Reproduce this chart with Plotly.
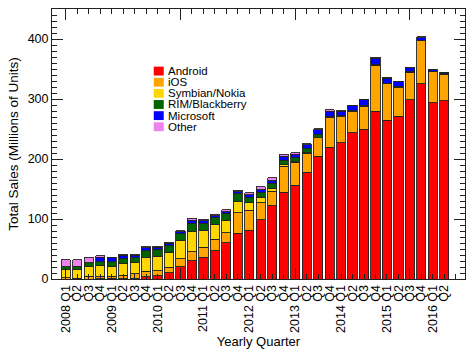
import plotly.graph_objects as go

# ---- data (millions of units) ----
quarters = ["2008 Q1", "Q2", "Q3", "Q4",
            "2009 Q1", "Q2", "Q3", "Q4",
            "2010 Q1", "Q2", "Q3", "Q4",
            "2011 Q1", "Q2", "Q3", "Q4",
            "2012 Q1", "Q2", "Q3", "Q4",
            "2013 Q1", "Q2", "Q3", "Q4",
            "2014 Q1", "Q2", "Q3", "Q4",
            "2015 Q1", "Q2", "Q3", "Q4",
            "2016 Q1", "Q2"]

android = [0, 0, 0, 0.6, 1.0, 0.8, 1.4, 4.0,
           5.2, 10.6, 20.5, 30.8, 36.3, 46.8, 60.5, 75.9,
           81.1, 98.5, 122.5, 144.7, 156.2, 177.9, 205.0, 219.6,
           227.5, 243.5, 250.0, 280.0, 265.0, 271.0, 298.8, 325.4,
           293.8, 297.0]
ios = [1.7, 0.9, 4.7, 4.1, 3.9, 5.3, 7.0, 8.7,
       8.4, 8.7, 13.5, 15.0, 16.9, 19.6, 17.0, 34.5,
       33.1, 28.9, 23.6, 43.5, 38.3, 32.0, 30.3, 50.2,
       43.1, 35.3, 38.0, 76.0, 60.2, 48.1, 46.1, 71.5,
       51.6, 44.4]
symbian = [14.0, 15.0, 16.0, 17.0, 16.5, 19.5, 18.3, 23.9,
           24.1, 25.4, 29.5, 34.0, 27.6, 23.9, 19.6, 18.5,
           12.5, 9.1, 4.4, 2.6, 1.3, 0.6, 0.5, 0,
           0, 0, 0, 0, 0, 0, 0, 0,
           0, 0]
rim = [5.0, 5.5, 6.0, 7.4, 7.5, 7.8, 8.5, 10.5,
       10.8, 11.2, 11.9, 13.5, 12.0, 12.7, 12.0, 12.8,
       9.9, 8.0, 8.9, 7.3, 6.2, 6.2, 4.4, 1.8,
       1.7, 2.0, 2.0, 1.7, 1.3, 1.2, 1.0, 0.9,
       0.7, 0.4]
microsoft = [0, 0, 0, 6.8, 6.4, 6.3, 4.5, 5.0,
             4.5, 4.0, 3.0, 5.0, 4.5, 2.5, 3.0, 3.5,
             3.5, 4.5, 4.3, 6.2, 6.0, 7.4, 8.9, 8.2,
             7.6, 8.1, 9.0, 10.4, 8.3, 8.2, 5.9, 4.4,
             2.4, 2.0]
other = [11.5, 10.8, 9.9, 2.8, 1.3, 1.3, 1.4, 1.6,
         1.5, 1.7, 2.1, 2.8, 2.5, 2.7, 3.0, 3.0,
         4.0, 4.5, 5.3, 3.4, 2.4, 1.1, 1.2, 2.7,
         1.4, 1.1, 1.0, 1.3, 1.3, 1.2, 1.3, 1.4,
         0.9, 0.7]

series_names = ["Android", "iOS", "Symbian/Nokia", "RIM/Blackberry", "Microsoft", "Other"]
series_values = [android, ios, symbian, rim, microsoft, other]
series_colors = ["#FF0000", "#FFA500", "#FFD700", "#006400", "#0000FF", "#EE82EE"]

xs = list(range(len(quarters)))

fig = go.Figure()
for name, vals, col in zip(series_names, series_values, series_colors):
    fig.add_trace(go.Bar(
        x=xs, y=vals, name=name, width=0.8,
        marker=dict(color=col, line=dict(color="#222222", width=0.9)),
        showlegend=False,
    ))

# ---- manual compact legend ----
W, H = 474, 354
ml, mr, mt, mb = 52, 8, 8, 72
pw, ph = W - ml - mr, H - mt - mb

def px_to_paper(px, py):
    return (px - ml) / pw, (H - mb - py) / ph

shapes = []
annotations = []
for i, (name, col) in enumerate(zip(series_names, series_colors)):
    cy = 71 + i * 11.3
    x0, y0 = px_to_paper(154, cy + 4.5)
    x1, y1 = px_to_paper(164, cy - 4.5)
    shapes.append(dict(type="rect", xref="paper", yref="paper",
                       x0=x0, y0=y0, x1=x1, y1=y1,
                       fillcolor=col, line=dict(width=0)))
    tx, ty = px_to_paper(166.5, cy)
    annotations.append(dict(xref="paper", yref="paper", x=tx, y=ty,
                            text=name, showarrow=False, xanchor="left",
                            yanchor="middle",
                            font=dict(size=11.5, color="black",
                                      family="Liberation Sans")))

tick_x = xs + [len(quarters)]
tick_text = quarters + [""]

fig.update_layout(
    width=W, height=H,
    margin=dict(l=ml, r=mr, t=mt, b=mb, pad=0),
    barmode="stack",
    plot_bgcolor="white", paper_bgcolor="white",
    font=dict(family="Liberation Sans", size=12.5, color="black"),
    shapes=shapes, annotations=annotations,
    xaxis=dict(
        range=[-1.2, 34.8],
        tickmode="array", tickvals=tick_x, ticktext=tick_text,
        tickangle=-90,
        ticks="inside", ticklen=5, tickcolor="#222", tickwidth=1,
        minor=dict(tickmode="array", tickvals=[0, 10, 20, 30],
                   ticks="inside", ticklen=11, tickcolor="#222", tickwidth=1),
        showline=True, linecolor="#222", linewidth=1, mirror="allticks",
        showgrid=False, zeroline=False,
        title=dict(text="Yearly Quarter", font=dict(size=13), standoff=4),
    ),
    yaxis=dict(
        range=[0, 450],
        tickmode="linear", tick0=0, dtick=100,
        ticks="inside", ticklen=11, tickcolor="#222", tickwidth=1,
        minor=dict(dtick=10, ticks="inside", ticklen=5,
                   tickcolor="#222", tickwidth=1),
        showline=True, linecolor="#222", linewidth=1, mirror="allticks",
        showgrid=False, zeroline=False,
        title=dict(text="Total Sales (Millions of Units)", font=dict(size=13.5),
                   standoff=5),
    ),
)

fig.write_html("out.html")
